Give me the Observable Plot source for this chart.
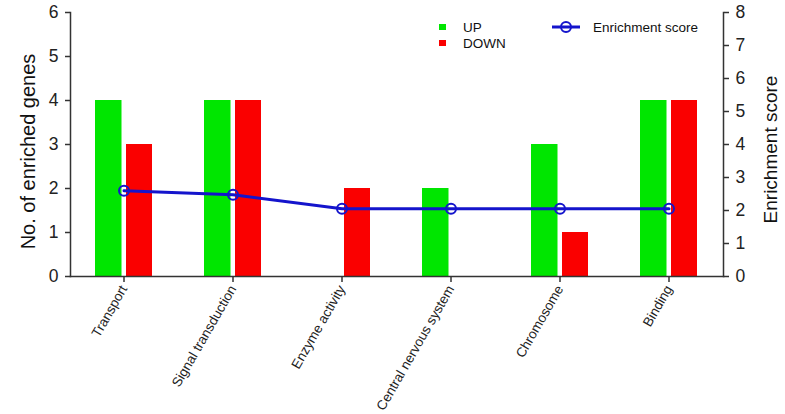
<!DOCTYPE html>
<html><head><meta charset="utf-8">
<script src="https://cdn.jsdelivr.net/npm/d3@7"></script>
<script src="https://cdn.jsdelivr.net/npm/@observablehq/plot@0.6"></script>
<style>
body{margin:0;background:#fff;font-family:"Liberation Sans",Arial,sans-serif;}
#wrap{position:relative;width:785px;height:414px;}
#legend{position:absolute;left:0;top:0;pointer-events:none;}
</style></head><body><div id="wrap"></div>
<script>
const categories = ["Transport","Signal transduction","Enzyme activity","Central nervous system","Chromosome","Binding"];
const upCounts = [4,4,0,2,3,4];
const downCounts = [3,4,2,0,1,4];
const enrichmentScores = [2.6,2.48,2.05,2.05,2.05,2.05];
const leftTicks = [0,1,2,3,4,5,6];
const rightTicks = [0,1,2,3,4,5,6,7,8];
const seriesNames = ["UP","DOWN","Enrichment score"];
const leftMax = 6, rightMax = 8;
const k = leftMax / rightMax;

const rows = categories.map((c,i)=>({category:c, up:upCounts[i], down:downCounts[i], score:enrichmentScores[i]}));
const green="#00e600", red="#fa0000", blue="#1414cc", axisColor="#333";
const font = "'Liberation Sans', Arial, Helvetica, sans-serif";

const chart = Plot.plot({
  width:785, height:414, marginTop:12, marginBottom:138, marginLeft:70, marginRight:62,
  style:{fontFamily:font, fontSize:"16px", color:"#222", background:"#fff"},
  x:{domain:categories, type:"band", range:[93.5,698.5], paddingInner:0.48, paddingOuter:0, label:null},
  y:{domain:[0,leftMax], label:null},
  marks:[
    Plot.barY(rows,{x:"category", y:"up", fill:green, insetRight:30.5, insetLeft:0}),
    Plot.barY(rows,{x:"category", y:"down", fill:red, insetLeft:31, insetRight:0}),
    Plot.frame({anchor:"left", stroke:axisColor, strokeWidth:1.5}),
    Plot.frame({anchor:"right", stroke:axisColor, strokeWidth:1.5}),
    Plot.frame({anchor:"bottom", stroke:axisColor, strokeWidth:1.5}),
    Plot.axisY({anchor:"left", ticks:leftTicks, tickFormat:d3.format("d"), tickSize:5, tickPadding:7, fontSize:17.5, stroke:axisColor, strokeWidth:1.5, label:null}),
    Plot.axisY({anchor:"right", ticks:rightTicks.map(v=>v*k), tickFormat:v=>String(Math.round(v/k)), tickSize:5, tickPadding:7, fontSize:17.5, stroke:axisColor, strokeWidth:1.5, label:null}),
    Plot.axisX({tickRotate:-60, tickSize:6, tickPadding:4, fontSize:13.5, stroke:axisColor, strokeWidth:1.5, label:null}),
    Plot.line(rows,{x:"category", y:d=>d.score*k, stroke:blue, strokeWidth:3}),
    Plot.dot(rows,{x:"category", y:d=>d.score*k, r:5, stroke:blue, strokeWidth:2, fill:"none"}),
    Plot.text(["No. of enriched genes"],{frameAnchor:"left", textAnchor:"middle", rotate:-90, dx:-42, dy:7, fontSize:20, fill:"#111"}),
    Plot.text(["Enrichment score"],{frameAnchor:"right", textAnchor:"middle", rotate:-90, dx:47, dy:5, fontSize:19, fill:"#111"})
  ]
});
const wrap = document.getElementById("wrap");
wrap.appendChild(chart);

// legend overlay
const lg = d3.select(wrap).append("svg").attr("id","legend").attr("width",785).attr("height",60)
  .style("font-family",font).style("font-size","13.5px");
const items = [
  {name:seriesNames[0], color:green, sx:439, sy:27, tx:463},
  {name:seriesNames[1], color:red, sx:439, sy:43, tx:463}
];
items.forEach(it=>{
  lg.append("rect").attr("x",it.sx).attr("y",it.sy-3).attr("width",7).attr("height",6).attr("fill",it.color);
  lg.append("text").attr("x",it.tx).attr("y",it.sy).attr("dy","0.35em").attr("fill","#111").text(it.name);
});
lg.append("line").attr("x1",552).attr("x2",580).attr("y1",27).attr("y2",27).attr("stroke",blue).attr("stroke-width",3);
lg.append("circle").attr("cx",566).attr("cy",27).attr("r",5).attr("fill","none").attr("stroke",blue).attr("stroke-width",2);
lg.append("text").attr("x",593).attr("y",27).attr("dy","0.35em").attr("fill","#111").text(seriesNames[2]);
</script></body></html>
